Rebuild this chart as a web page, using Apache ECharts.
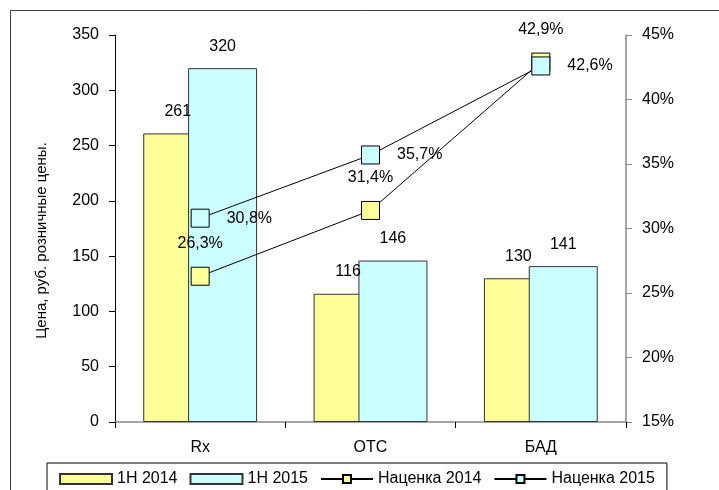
<!DOCTYPE html>
<html>
<head>
<meta charset="utf-8">
<script src="https://cdn.jsdelivr.net/npm/echarts@6/dist/echarts.min.js"></script>
<style>
  html, body { margin: 0; padding: 0; background: #fff; }
  #chart { width: 719px; height: 490px; }
</style>
</head>
<body>
<div id="chart"></div>
<script>
// данные
const categories = ['Rx', 'OTC', 'БАД'];
const price2014 = [261, 116, 130];
const price2015 = [320, 146, 141];
const markup2014 = [26.3, 31.4, 42.9];
const markup2015 = [30.8, 35.7, 42.6];
const seriesNames = ['1Н 2014', '1Н 2015', 'Наценка 2014', 'Наценка 2015'];

const FONT = '"Liberation Sans", Arial, sans-serif';
const yellow = '#FFFF99';
const cyan = '#CCFFFF';

const chart = echarts.init(document.getElementById('chart'), null, { renderer: 'canvas' });

function pct(v) {
  return v.toFixed(1).replace('.', ',') + '%';
}

let option = {
  backgroundColor: '#fff',
  animation: false,
  textStyle: { fontFamily: FONT, fontSize: 16, color: '#000' },
  // рамка области диаграммы (только верх и левый край видны)
  graphic: [{
    type: 'polyline',
    shape: { points: [[10.5, 500], [10.5, 10.5], [719, 10.5]] },
    style: { fill: 'none', stroke: '#404040', lineWidth: 1 },
    silent: true
  }],
  grid: { left: 115, right: 93, top: 35, bottom: 68 },
  legend: {
    left: 47,
    top: 463,
    padding: [8, 12, 8, 12],
    borderColor: '#000',
    borderWidth: 1,
    itemWidth: 52,
    itemHeight: 10,
    itemGap: 12,
    textStyle: { fontFamily: FONT, fontSize: 16, color: '#000' },
    data: [
      { name: seriesNames[0], icon: 'rect' },
      { name: seriesNames[1], icon: 'rect' },
      { name: seriesNames[2] },
      { name: seriesNames[3] }
    ]
  },
  xAxis: {
    type: 'category',
    data: categories,
    axisLine: { lineStyle: { color: '#868686', width: 1.5 } },
    axisTick: { show: true, inside: false, length: 6, lineStyle: { color: '#000' } },
    axisLabel: { fontFamily: FONT, fontSize: 16, color: '#000', margin: 18 }
  },
  yAxis: [{
    type: 'value',
    min: 0,
    max: 350,
    interval: 50,
    name: 'Цена, руб. розничные цены.',
    nameLocation: 'middle',
    nameGap: 66,
    nameTextStyle: { fontFamily: FONT, fontSize: 15, color: '#000', padding: [0, 0, 0, -24] },
    axisLine: { show: true, lineStyle: { color: '#000' } },
    axisTick: { show: true, length: 6, lineStyle: { color: '#000' } },
    axisLabel: { fontFamily: FONT, fontSize: 16, color: '#000', margin: 16 },
    splitLine: { show: false }
  }, {
    type: 'value',
    min: 15,
    max: 45,
    interval: 5,
    position: 'right',
    axisLine: { show: true, lineStyle: { color: '#868686', width: 1.5 } },
    axisTick: { show: true, length: 6, lineStyle: { color: '#868686' } },
    axisLabel: { fontFamily: FONT, fontSize: 16, color: '#000', margin: 16, formatter: '{value}%' },
    splitLine: { show: false }
  }],
  series: [{
    name: seriesNames[0],
    type: 'bar',
    data: price2014,
    barWidth: 69,
    barGap: '-35%',
    itemStyle: { color: yellow, borderColor: '#333', borderWidth: 1 },
    label: { show: true, position: 'top', distance: 14, fontFamily: FONT, fontSize: 16, color: '#000' }
  }, {
    name: seriesNames[1],
    type: 'bar',
    data: price2015,
    barWidth: 69,
    barGap: '-35%',
    itemStyle: { color: cyan, borderColor: '#333', borderWidth: 1 },
    label: { show: true, position: 'top', distance: 14, fontFamily: FONT, fontSize: 16, color: '#000' }
  }, {
    name: seriesNames[2],
    type: 'line',
    yAxisIndex: 1,
    data: markup2014,
    symbol: 'rect',
    symbolSize: 18,
    lineStyle: { color: '#000', width: 1 },
    itemStyle: { color: yellow, borderColor: '#000', borderWidth: 1 },
    label: {
      show: true, position: 'top', distance: 15,
      fontFamily: FONT, fontSize: 16, color: '#000',
      formatter: p => pct(p.value)
    }
  }, {
    name: seriesNames[3],
    type: 'line',
    yAxisIndex: 1,
    data: markup2015,
    symbol: 'rect',
    symbolSize: 18,
    lineStyle: { color: '#000', width: 1 },
    itemStyle: { color: cyan, borderColor: '#000', borderWidth: 1 },
    label: {
      show: true, position: 'right', distance: 17,
      fontFamily: FONT, fontSize: 16, color: '#000',
      formatter: p => pct(p.value)
    }
  }]
};

chart.setOption(option);
</script>
</body>
</html>
